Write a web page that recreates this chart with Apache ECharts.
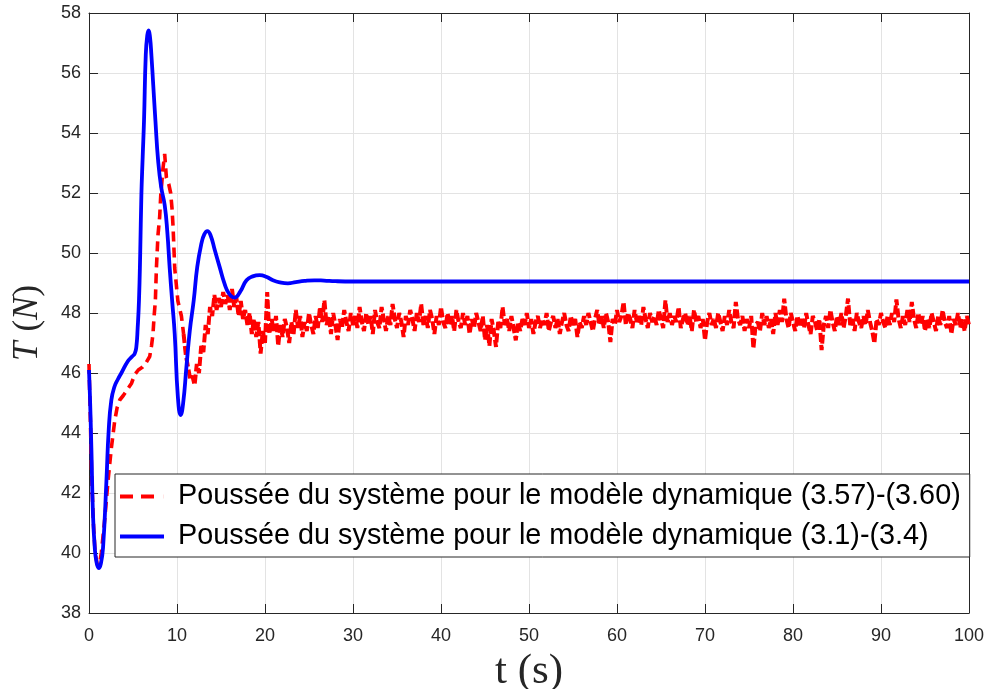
<!DOCTYPE html>
<html>
<head>
<meta charset="utf-8">
<script src="https://cdn.jsdelivr.net/npm/echarts@6/dist/echarts.min.js"></script>
<style>
html, body { margin: 0; padding: 0; background: #ffffff; }
#chart { width: 989px; height: 689px; }
</style>
</head>
<body>
<div id="chart"></div>
<script>
// Thrust of the simplified model (3.1)-(3.4): smooth response, sample times (s) and values (N)
const blueT = [0, 0.1, 0.27, 0.45, 0.65, 0.85, 1.1, 1.35, 1.6, 1.98, 2.24, 2.54, 2.9, 3.3, 3.68, 4.43, 4.9, 5.2, 5.38, 5.53, 5.68, 5.82, 5.95, 6.1, 6.25, 6.45, 6.62, 6.78, 6.93, 7.09, 7.3, 7.55, 7.85, 8.2, 8.6, 8.9, 9.17, 9.45, 9.74, 10.1, 10.42, 10.7, 11.07, 11.45, 11.9, 12.3, 12.77, 13.1, 13.45, 13.8, 14.3, 14.85, 15.4, 15.9, 16.55, 17.2, 17.9, 18.6, 19.4, 20.2, 20.9, 21.7, 22.6, 23.5, 24.5, 25.6, 26.7, 28, 30, 40, 50, 60, 70, 80, 90, 100];
const blueV = [46.1, 45.3, 43.5, 41.3, 40.2, 39.7, 39.5, 39.65, 40.2, 42.4, 44.1, 45.1, 45.55, 45.8, 46.0, 46.4, 46.55, 46.65, 46.87, 47.5, 48.42, 50.0, 51.9, 53.2, 54.4, 56.6, 57.25, 57.42, 57.2, 56.6, 55.6, 54.4, 53.1, 52.2, 51.6, 50.7, 49.5, 48.4, 47.3, 45.2, 44.6, 45.0, 46.2, 47.4, 48.42, 49.53, 50.31, 50.62, 50.73, 50.6, 50.09, 49.53, 48.98, 48.65, 48.51, 48.72, 49.09, 49.22, 49.26, 49.2, 49.09, 49.02, 48.99, 49.03, 49.07, 49.09, 49.08, 49.06, 49.05, 49.05, 49.05, 49.05, 49.05, 49.05, 49.05, 49.05];

// Thrust of the full dynamic model (3.57)-(3.60): transient part, times (s) and values (N)
const redHeadT = [0, 0.15, 0.3, 0.5, 0.7, 0.95, 1.2, 1.4, 1.78, 2.16, 2.54, 2.92, 3.2, 3.49, 3.9, 4.25, 4.82, 5.2, 5.6, 6.1, 6.5, 6.9, 7.1, 7.27, 7.4, 7.54, 7.66, 7.84, 8.03, 8.15, 8.4, 8.6, 8.8, 9.06, 9.28, 9.43, 9.55, 9.74, 10.1, 10.5, 10.75];
const redHeadV = [46.3, 44.5, 42.6, 41.0, 40.0, 39.6, 39.65, 40.0, 41.1, 42.4, 43.5, 44.4, 44.85, 45.1, 45.25, 45.4, 45.65, 45.95, 46.1, 46.2, 46.35, 46.55, 46.9, 47.3, 47.9, 48.4, 49.5, 50.6, 51.2, 51.9, 52.8, 53.3, 52.5, 52.3, 52.0, 51.5, 50.9, 49.5, 48.4, 47.9, 47.3];

// Noisy part of the same signal, sampled every 0.25 s from 11 s to 100 s
const redTailStart = 11;
const redTailStep = 0.25;
const redTailV = [
  46.6, 46.2, 45.8, 45.9, 45.6, 46.3, 46.0, 46.9, 46.7, 47.6, 47.3, 48.2, 47.9, 48.6, 48.1, 48.5, 48.2, 48.7, 48.3, 48.6,
  48.1, 48.8, 48.2, 48.5, 47.9, 48.4, 47.8, 48.1, 47.6, 48.0, 47.3, 47.8, 47.2, 47.7, 46.65, 47.4, 47.0, 48.7, 47.3, 47.8,
  47.4, 47.9, 46.9, 47.6, 47.2, 47.8, 47.5, 47.0, 47.7, 47.3, 48.1, 47.5, 47.9, 47.2, 47.7, 47.4, 48.0, 47.6, 47.3, 47.9,
  47.5, 48.2, 47.7, 48.42, 47.6, 47.9, 47.3, 48.0, 47.6, 47.1, 47.8, 47.5, 48.1, 47.7, 47.4, 48.0, 47.6, 47.9, 47.5, 48.2,
  47.7, 47.4, 48.0, 47.6, 47.9, 47.3, 48.1, 47.7, 47.5, 48.2, 47.8, 47.4, 47.9, 47.6, 48.3, 47.8, 47.5, 48.0, 47.7, 47.2,
  47.9, 47.6, 48.1, 47.8, 47.4, 48.0, 47.7, 48.3, 47.6, 47.9, 47.5, 48.1, 47.8, 47.3, 47.9, 47.6, 48.2, 47.7, 47.5, 48.0,
  47.6, 47.9, 47.4, 48.1, 47.7, 47.5, 48.0, 47.6, 47.9, 47.3, 47.8, 47.5, 48.0, 47.7, 47.4, 47.9, 47.1, 47.6, 46.9, 47.8,
  47.4, 46.87, 47.7, 47.5, 48.2, 47.6, 47.8, 47.4, 47.9, 47.5, 47.09, 47.7, 47.4, 47.8, 47.6, 48.0, 47.5, 47.8, 47.3, 47.7,
  47.9, 47.5, 47.8, 47.6, 48.0, 47.4, 47.7, 47.9, 47.5, 47.8, 47.3, 47.7, 48.0, 47.6, 47.4, 47.9, 47.6, 47.8, 47.2, 47.7,
  47.5, 47.9, 47.6, 48.0, 47.7, 47.4, 47.8, 48.1, 47.6, 47.9, 47.5, 48.0, 47.7, 47.03, 47.8, 47.6, 48.1, 47.7, 47.9, 48.37,
  47.6, 48.0, 47.8, 47.5, 48.1, 47.7, 47.9, 47.6, 48.2, 47.8, 47.5, 48.0, 47.7, 47.9, 47.6, 48.1, 47.8, 47.5, 48.42, 47.7,
  48.0, 47.6, 47.9, 47.7, 48.2, 47.5, 47.8, 48.0, 47.6, 47.9, 47.4, 48.1, 47.7, 47.9, 47.5, 47.8, 47.09, 47.7, 48.0, 47.6,
  47.8, 47.5, 48.0, 47.7, 47.4, 47.9, 47.6, 48.1, 47.7, 47.5, 48.37, 47.8, 47.6, 47.9, 47.4, 47.8, 47.5, 47.9, 46.81, 47.6,
  47.7, 47.4, 48.0, 47.6, 47.9, 47.5, 47.8, 47.3, 48.0, 47.6, 48.1, 47.7, 48.48, 47.8, 47.5, 48.0, 47.7, 47.4, 47.9, 47.6,
  47.8, 47.5, 48.0, 47.6, 47.3, 47.9, 47.7, 47.4, 47.8, 46.76, 47.6, 47.9, 47.5, 48.1, 47.7, 47.4, 47.9, 47.6, 48.0, 47.5,
  47.9, 48.48, 47.6, 47.8, 47.4, 48.0, 47.7, 47.5, 47.9, 47.6, 48.1, 47.7, 47.4, 46.99, 47.8, 47.6, 48.0, 47.7, 47.5, 47.9,
  47.6, 48.0, 47.7, 48.45, 47.8, 47.5, 47.9, 47.6, 48.1, 47.7, 48.37, 47.8, 47.5, 48.0, 47.6, 47.9, 47.4, 47.8, 47.5, 48.0,
  47.7, 47.4, 47.9, 47.6, 48.1, 47.7, 47.5, 47.9, 47.3, 47.8, 47.6, 48.0, 47.5, 47.8, 47.4, 47.9, 47.6
];

// Axis ticks
const xTicks = { min: 0, max: 100, step: 10 };
const yTicks = { min: 38, max: 58, step: 2 };

const nameRed = 'Poussée du système pour le modèle dynamique (3.57)-(3.60)';
const nameBlue = 'Poussée du système pour le modèle dynamique (3.1)-(3.4)';

const blueData = blueT.map((t, i) => [t, blueV[i]]);
const redHeadData = redHeadT.map((t, i) => [t, redHeadV[i]]);
const redTailData = [redHeadData[redHeadData.length - 1]]
  .concat(redTailV.map((v, i) => [redTailStart + i * redTailStep, v]));

const ink = '#262626';
const gridColor = '#e3e3e3';
const tickFont = 'Liberation Sans, Arial, Helvetica, sans-serif';
const mathFont = 'Liberation Serif, Times New Roman, serif';

// legend keys: dashed stroke for the red curve, solid stroke for the blue one
const dashKey = 'path://M0,0h13v4h-13z M21,0h13v4h-13z M43.9,0h0.1v4h-0.1z';
const solidKey = 'path://M0,0h44v4h-44z';

const chart = echarts.init(document.getElementById('chart'), null, { renderer: 'canvas' });

const frameAxis = (pos, ticks) => ({
  type: 'value',
  position: pos,
  min: ticks.min, max: ticks.max, interval: ticks.step,
  axisLine: { show: true, onZero: false, lineStyle: { color: ink, width: 1 } },
  axisTick: { show: true, inside: true, length: 9, lineStyle: { color: ink, width: 1 } },
  axisLabel: { show: false },
  splitLine: { show: false }
});

const redLine = (data, dash, width) => ({
  name: nameRed,
  type: 'line',
  xAxisIndex: 0, yAxisIndex: 0,
  data: data,
  showSymbol: false,
  symbol: 'none',
  smooth: false,
  z: 2,
  lineStyle: { color: '#ff0000', width: width, type: dash },
  itemStyle: { color: '#ff0000' }
});

chart.setOption({
  animation: false,
  backgroundColor: '#ffffff',
  grid: { left: 89, right: 20, top: 13, bottom: 76, containLabel: false, outerBoundsMode: 'none' },
  xAxis: [
    {
      type: 'value',
      position: 'bottom',
      min: xTicks.min, max: xTicks.max, interval: xTicks.step,
      name: 't (s)',
      nameLocation: 'middle',
      nameGap: 31,
      nameTextStyle: { fontFamily: mathFont, fontSize: 43, color: ink, verticalAlign: 'top' },
      axisLine: { show: true, onZero: false, lineStyle: { color: ink, width: 1 } },
      axisTick: { show: true, inside: true, length: 9, lineStyle: { color: ink, width: 1 } },
      axisLabel: { show: true, margin: 14, fontFamily: tickFont, fontSize: 18, color: ink },
      splitLine: { show: true, lineStyle: { color: gridColor, width: 1 } }
    },
    frameAxis('top', xTicks)
  ],
  yAxis: [
    {
      type: 'value',
      position: 'left',
      min: yTicks.min, max: yTicks.max, interval: yTicks.step,
      name: '{i|T}{s|}{r|(}{i|N}{r|)}',
      nameLocation: 'middle',
      nameGap: 44,
      nameRotate: 90,
      nameTextStyle: {
        color: ink,
        padding: [0, 20, 0, 0],
        rich: {
          i: { fontFamily: mathFont, fontStyle: 'italic', fontSize: 35, color: ink },
          r: { fontFamily: mathFont, fontSize: 35, color: ink },
          s: { width: 10 }
        }
      },
      axisLine: { show: true, onZero: false, lineStyle: { color: ink, width: 1 } },
      axisTick: { show: true, inside: true, length: 9, lineStyle: { color: ink, width: 1 } },
      axisLabel: { show: true, margin: 8, fontFamily: tickFont, fontSize: 18, color: ink },
      splitLine: { show: true, lineStyle: { color: gridColor, width: 1 } }
    },
    frameAxis('right', yTicks)
  ],
  legend: {
    orient: 'vertical',
    left: 115,
    top: 474,
    padding: [7, 9, 5, 5],
    itemGap: 9,
    itemWidth: 44,
    itemHeight: 4,
    symbolKeepAspect: false,
    backgroundColor: '#ffffff',
    borderColor: ink,
    borderWidth: 1,
    borderRadius: 0,
    textStyle: { fontFamily: tickFont, fontSize: 28.8, lineHeight: 31, color: '#000000', padding: [0, 0, 0, 9] },
    data: [
      { name: nameRed, icon: dashKey, itemStyle: { color: '#ff0000', borderWidth: 0 } },
      { name: nameBlue, icon: solidKey, itemStyle: { color: '#0000ff', borderWidth: 0 } }
    ]
  },
  series: [
    redLine(redHeadData, [10, 6], 3.6),
    redLine(redTailData, [9, 3], 4),
    {
      name: nameBlue,
      type: 'line',
      xAxisIndex: 0, yAxisIndex: 0,
      data: blueData,
      showSymbol: false,
      symbol: 'none',
      smooth: 0.5,
      z: 3,
      lineStyle: { color: '#0000ff', width: 3.8 },
      itemStyle: { color: '#0000ff' }
    }
  ]
});
</script>
</body>
</html>
